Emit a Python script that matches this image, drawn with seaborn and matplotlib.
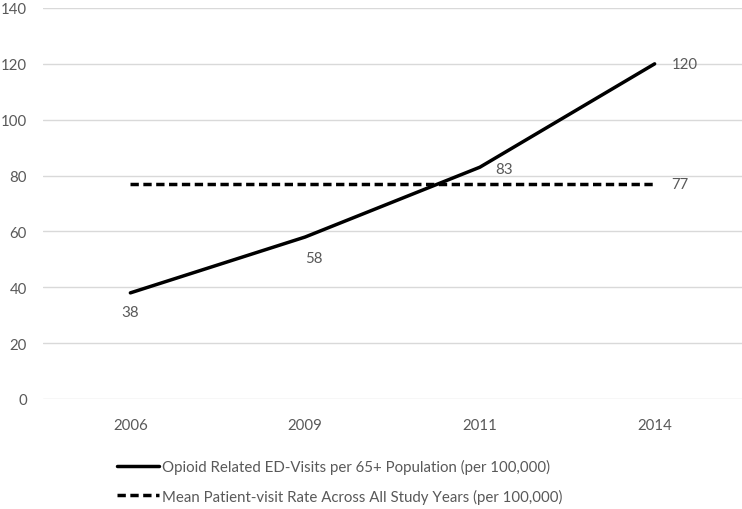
import numpy as np
import pandas as pd
import seaborn as sns
import matplotlib
matplotlib.use("Agg")
import matplotlib.pyplot as plt

years = ["2006", "2009", "2011", "2014"]
visit_rate = [38, 58, 83, 120]
mean_rate = [77, 77, 77, 77]
yticks = [0, 20, 40, 60, 80, 100, 120, 140]

label_solid = "Opioid Related ED-Visits per 65+ Population (per 100,000)"
label_dashed = "Mean Patient-visit Rate Across All Study Years (per 100,000)"

sns.set_theme(style="white")
plt.rcParams["font.family"] = ["Lato", "DejaVu Sans"]
gray = "#595959"
fs = 10.8

df = pd.DataFrame({"year": years, "rate": visit_rate, "mean": mean_rate})

fig = plt.figure(figsize=(7.42, 5.10), dpi=100)
ax = fig.add_axes([43 / 742, (510 - 400) / 510, 1 - 43 / 742, (400 - 9) / 510])

sns.lineplot(data=df, x="year", y="rate", ax=ax, color="black", lw=2.5,
             label=label_solid, sort=False)
sns.lineplot(data=df, x="year", y="mean", ax=ax, color="black", lw=2.5,
             label=label_dashed, sort=False, dashes=False)
ax.lines[1].set_dashes([2.4, 1.3])

ax.set_xlim(-0.5, 3.5)
ax.set_ylim(0, 140)
ax.set_yticks(yticks)
ax.grid(axis="y", color="#d9d9d9", lw=1)
ax.grid(axis="x", visible=False)
ax.set_axisbelow(True)
for s in ax.spines.values():
    s.set_visible(False)
ax.set_xlabel("")
ax.set_ylabel("")
ax.tick_params(axis="both", length=0, labelsize=fs, colors=gray)
ax.tick_params(axis="x", pad=14)
ax.tick_params(axis="y", pad=11.5)

# data labels
ax.annotate(str(visit_rate[0]), (0, visit_rate[0]), xytext=(0, -19),
            textcoords="offset points", ha="center", va="bottom", color=gray, fontsize=fs)
ax.annotate(str(visit_rate[1]), (1, visit_rate[1]), xytext=(6, -20),
            textcoords="offset points", ha="center", va="bottom", color=gray, fontsize=fs)
ax.annotate(str(visit_rate[2]), (2, visit_rate[2]), xytext=(11, -6),
            textcoords="offset points", ha="left", va="bottom", color=gray, fontsize=fs)
ax.annotate(str(visit_rate[3]), (3, visit_rate[3]), xytext=(12, 0),
            textcoords="offset points", ha="left", va="center", color=gray, fontsize=fs)
ax.annotate(str(mean_rate[3]), (3, mean_rate[3]), xytext=(12, 0),
            textcoords="offset points", ha="left", va="center", color=gray, fontsize=fs)

ax.legend_.remove()
handles, labels = ax.get_legend_handles_labels()
leg = fig.legend(handles, labels, loc="center left",
                 bbox_to_anchor=(117 / 742, (510 - 482.5) / 510),
                 frameon=False, fontsize=fs, handlelength=2.8, handletextpad=0.2,
                 labelspacing=0.95, labelcolor=gray, borderpad=0, borderaxespad=0)

fig.savefig("out.png", dpi=100)
